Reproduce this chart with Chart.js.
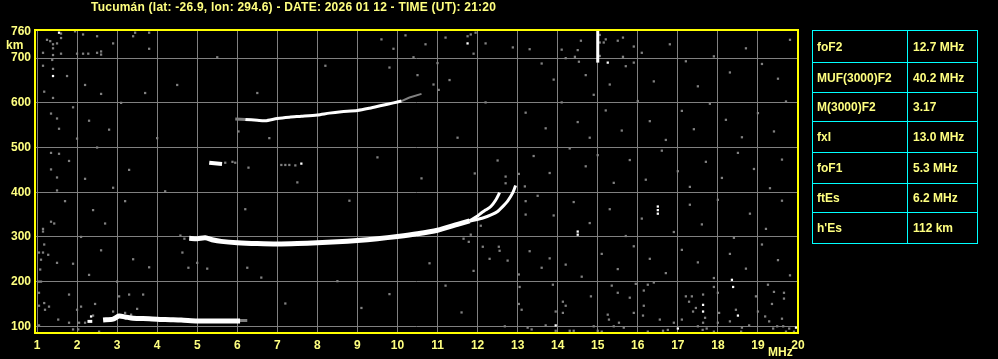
<!DOCTYPE html>
<html><head><meta charset="utf-8">
<script src="https://cdn.jsdelivr.net/npm/chart.js@4.4.1/dist/chart.umd.min.js"></script>
<style>
html,body{margin:0;padding:0;background:#000;}
body{width:998px;height:359px;position:relative;overflow:hidden;font-family:"Liberation Sans",Arial,sans-serif;font-weight:bold;color:#ffff80;}
#c{position:absolute;left:0;top:0;}
#title{position:absolute;left:91px;top:0;font-size:12px;line-height:14px;letter-spacing:0.23px;white-space:nowrap;}
.lbl{position:absolute;font-size:12px;line-height:14px;white-space:nowrap;}
.cell{position:absolute;font-size:12px;white-space:nowrap;display:flex;align-items:center;}
.hl{position:absolute;background:#00ffff;height:1px;}
.vl{position:absolute;background:#00ffff;width:1px;}
</style></head>
<body>
<canvas id="c" width="998" height="359"></canvas>
<div id="title"></div>
<div class="lbl" style="left:6px;top:38px">km</div>
<div class="lbl" style="left:768px;top:345px">MHz</div>
<div id="tbl"></div>
<script>
const title = "Tucumán (lat: -26.9, lon: 294.6) - DATE: 2026 01 12 - TIME (UT): 21:20";
const freqTicks = [1,2,3,4,5,6,7,8,9,10,11,12,13,14,15,16,17,18,19,20];
const heightTicks = [100,200,300,400,500,600,700,760];
const paramNames = ["foF2","MUF(3000)F2","M(3000)F2","fxI","foF1","ftEs","h'Es"];
const paramValues = ["12.7 MHz","40.2 MHz","3.17","13.0 MHz","5.3 MHz","6.2 MHz","112 km"];

// F-layer trace (common part), then the two branches near the critical frequency
const fTraceFreq   = [4.8,5.0,5.2,5.4,5.6,6.0,6.5,7.0,7.5,8.0,8.5,9.0,9.5,10.0,10.5,11.0,11.5,11.8];
const fTraceHeight = [297,296,298,293,290,287,285,284,285,287,289,292,296,301,307,315,328,336];
const oBranchFreq   = [11.8,12.0,12.1,12.2,12.33,12.45,12.55];
const oBranchHeight = [336,347,354,360,368,382,399];
const xBranchFreq   = [11.8,12.15,12.35,12.5,12.65,12.75,12.88,12.95];
const xBranchHeight = [335,343,350,357,370,380,399,415];
// Sporadic E trace
const esFreq   = [2.65,2.9,3.05,3.2,3.4,3.8,4.2,4.6,5.0,5.5,6.07];
const esHeight = [114,116,123,121,118,117,115,114,112,112,112];
const esSmallFreq = [2.26,2.38];
const esSmallHeight = [111,111];
const esTailFreq = [6.05,6.25];
const esTailHeight = [113,113];
// Second-hop F trace
const f2Freq   = [6.2,6.5,6.7,7.0,7.3,7.6,8.0,8.3,8.6,9.0,9.3,9.6,9.9,10.1];
const f2Height = [563,561,560,565,568,570,573,577,580,583,588,594,600,604];
const f2TailFreq   = [5.95,6.2];
const f2TailHeight = [564,563];
const f2FadeFreq   = [10.1,10.3,10.6];
const f2FadeHeight = [604,612,620];
// Small trace near 465 km
const blobFreq = [5.3,5.62];
const blobHeight = [466,463];
// Vertical interference at 15 MHz
const vlineFreq = [15.0,15.0];
const vlineHeight = [690,763];

// White isolated echoes
const whiteDots = [[1.4,660],[11.75,733],[13.95,102],[17.0,95],[17.63,148],[17.63,133],[18.38,188],[18.35,204],
 [18.5,124],[19.95,97],[15.25,690],[7.6,464],[16.5,352],[16.5,360],[16.5,368],[14.5,305],[14.5,312],[2.35,122],[1.55,757]];
// Gray noise echoes
const grayDots = [
 [1.33,738],[1.4,731],[1.4,722],[1.15,712],[1.4,707],[1.38,696],[1.15,683],[1.4,676],[1.18,625],[1.4,611],[1.35,576],
 [1.5,565],[1.55,542],[1.35,488],[1.55,486],[1.35,451],[1.5,433],[1.5,404],[1.35,334],[1.43,330],[1.15,318],[1.15,312],
 [1.18,283],[1.05,265],[1.15,265],[1.28,260],[1.5,242],[1.1,249],[1.08,227],[1.05,200],[1.1,200],[1.05,175],[1.05,146],
 [1.18,152],[1.3,144],[1.53,115],[1.05,102],[1.2,137],[1.8,171],[1.8,108],[1.9,93],[2.03,93],[2.0,137],[2.1,144],
 [2.05,108],[2.2,108],[2.45,150],[2.4,124],[2.55,88],[3.0,200],[3.05,167],[3.3,171],[3.65,171],[3.2,130],[3.5,139],
 [3.35,126],[2.9,133],[1.6,755],[1.6,745],[1.25,741],[1.5,733],[1.6,710],[1.95,760],[2.15,753],[2.5,749],[2.0,710],
 [2.15,710],[2.28,710],[2.5,712],[2.6,715],[2.6,708],[2.9,733],[3.45,757],[3.4,749],[3.8,757],[3.8,721],
 [11.95,757],[11.83,753],[11.75,749],[11.9,710],[12.2,733],[12.88,724],
 [1.75,660],[2.2,640],[2.6,620],[1.9,590],[2.3,560],[2.8,540],[3.1,600],[2.0,520],[2.5,500],[1.8,470],[2.2,430],
 [2.9,410],[3.3,450],[1.7,380],[2.4,360],[2.7,330],[3.2,380],[2.1,300],[2.6,270],[3.4,250],[1.9,240],[3.8,232],[2.3,215],
 [13.05,188],[13.03,150],[13.1,137],[12.68,100],[13.25,97],[13.35,93],[13.7,102],[13.88,193],[13.95,133],[13.95,90],
 [14.13,155],[14.2,146],[14.13,130],[14.3,90],[14.4,90],[14.83,167],[14.9,100],[15.0,90],[15.1,88],[15.25,126],[15.28,115],
 [15.35,191],[15.5,175],[15.4,100],[15.53,108],[15.65,97],[15.8,164],[15.9,130],[15.95,195],[16.15,180],[16.15,146],
 [16.13,124],[16.25,193],[16.4,198],[16.25,88],[16.55,115],[16.63,90],[16.75,92],[16.9,108],[17.1,115],[17.2,167],
 [17.35,167],[17.28,155],[17.38,133],[17.45,141],[17.5,100],[17.62,92],[17.63,171],[17.68,119],[17.63,108],[17.72,95],
 [17.9,188],[18.0,175],[18.03,130],[18.0,108],[17.9,88],[18.3,111],[18.45,137],[18.6,97],[18.58,88],[18.78,102],
 [18.95,167],[19.0,133],[19.18,122],[19.28,111],[19.25,193],[19.38,95],[19.4,177],[19.35,150],[19.48,100],[19.63,100],
 [19.65,175],[19.65,162],[19.7,88],[19.78,95],[19.9,88],[19.6,117],
 [14.58,739],[14.1,719],[14.43,703],[14.5,718],[15.05,705],[15.05,735],[15.05,752],[15.15,735],[15.2,742],[15.5,739],
 [15.63,746],[15.9,726],[15.63,703],[14.53,692],[15.9,690],
 [6.5,622],[6.03,536],[5.88,468],[6.28,455],[7.1,461],[7.2,461],[7.3,461],[7.45,460],[5.7,466],[5.95,466],[11.03,629],
 [4.58,303],[4.63,265],[4.78,231],[5.25,229],[6.25,231],[6.6,209],[12.08,325],[12.53,278],[12.55,269],[12.75,247],
 [11.9,224],[11.83,305],[13.03,216],[11.93,442],[12.7,435],[13.03,441],[13.18,413],[13.2,380],[13.2,350],[12.7,420],
 [11.78,289],[12.13,278],[11.65,296],[4.68,296],
 [13.3,720],[13.6,688],[13.9,652],[14.2,700],[14.7,662],[14.9,618],[15.3,641],[15.7,682],[16.1,712],[16.4,648],
 [16.8,731],[17.2,693],[17.5,637],[17.9,704],[18.3,668],[18.7,722],[19.1,687],[19.5,654],[19.8,741],
 [13.2,578],[13.7,543],[14.1,601],[14.5,557],[14.8,522],[15.2,583],[15.6,538],[16.0,604],[16.3,559],[16.7,517],
 [17.1,582],[17.4,541],[17.8,598],[18.2,562],[18.6,523],[19.0,577],[19.4,536],[19.7,603],
 [13.4,481],[13.8,443],[14.3,498],[14.7,458],[15.0,483],[15.4,421],[15.8,472],[16.2,428],[16.6,493],[17.0,447],
 [17.3,412],[17.7,468],[18.1,432],[18.5,488],[18.9,452],[19.3,409],[19.6,473],
 [13.5,392],[13.9,348],[14.4,378],[14.8,331],[15.3,362],[15.7,302],[16.1,341],[16.9,311],[17.3,372],[17.6,328],
 [18.0,383],[18.4,298],[18.8,352],[19.2,318],[19.6,381],
 [13.3,268],[13.6,231],[13.8,252],[14.2,238],[14.6,211],[15.1,262],[15.5,228],[15.9,279],[16.3,251],[16.7,219],
 [17.1,271],[17.5,243],[17.9,208],[18.3,262],[18.7,229],[19.1,283],[19.5,248],[19.8,214],
 [9.6,742],[9.9,721],[10.2,751],[10.4,702],[10.7,731],[11.0,689],[11.2,746],[10.5,662],[9.8,679],[11.3,651],[10.9,641],
 [4.5,640],[5.5,702],[6.8,521],[8.2,683],[7.5,422],[8.8,381],[6.2,362],[9.5,478],[10.6,431],[11.5,522],[12.2,601],
 [12.5,471],[8.5,201],[9.8,172],[10.8,241],[11.2,191],[7.2,151],[4.0,521],[3.7,622],[4.2,402],[5.0,242],[9.1,141],
 [11.6,131],[12.3,251]
];

document.getElementById('title').textContent = title;

// Parameter table
const rowY = [30,62,92,121,152,183,212,243];
const tblLeft = 812, tblMid = 907, tblRight = 977;
const tbl = document.getElementById('tbl');
function addDiv(cls, style, text){ const d=document.createElement('div'); d.className=cls; Object.assign(d.style,style); if(text!==undefined) d.textContent=text; tbl.appendChild(d); }
rowY.forEach(y=>addDiv('hl',{left:tblLeft+'px',top:y+'px',width:(tblRight-tblLeft+1)+'px'}));
[tblLeft,tblMid,tblRight].forEach(x=>addDiv('vl',{left:x+'px',top:rowY[0]+'px',height:(rowY[rowY.length-1]-rowY[0]+1)+'px'}));
paramNames.forEach((n,i)=>{
  const top=rowY[i]+1, h=rowY[i+1]-rowY[i]-1;
  addDiv('cell',{left:(tblLeft+5)+'px',top:top+'px',height:h+'px'},n);
  addDiv('cell',{left:(tblMid+6)+'px',top:top+'px',height:h+'px'},paramValues[i]);
});

const xy = (fs,hs)=>fs.map((f,i)=>({x:f,y:hs[i]}));
const pts = arr=>arr.map(p=>({x:p[0],y:p[1]}));
const line = (data,w,color,tension)=>({data,showLine:true,borderColor:color||'#ffffff',borderWidth:w,pointRadius:0,
  tension:tension===undefined?0.25:tension,borderCapStyle:'butt',borderJoinStyle:'round',order:0});

const borderPlugin = {
  id:'frame',
  afterDatasetsDraw(chart){
    const {ctx,chartArea:a}=chart;
    ctx.save(); ctx.strokeStyle='#ffff00'; ctx.lineWidth=2;
    ctx.strokeRect(a.left,a.top,a.right-a.left,a.bottom-a.top);
    ctx.restore();
  }
};

const tickFont = {family:'Liberation Sans',size:12,weight:'bold'};
new Chart(document.getElementById('c'),{
  type:'scatter',
  data:{datasets:[
    line(xy(fTraceFreq,fTraceHeight),5),
    line(xy(oBranchFreq,oBranchHeight),3),
    line(xy(xBranchFreq,xBranchHeight),3),
    line(xy(esFreq,esHeight),5),
    line(xy(esSmallFreq,esSmallHeight),3,'#ffffff',0),
    line(xy(esTailFreq,esTailHeight),3,'#808080',0),
    line(xy(f2Freq,f2Height),3),
    line(xy(f2TailFreq,f2TailHeight),3,'#808080',0),
    line(xy(f2FadeFreq,f2FadeHeight),2,'#808080',0),
    line(xy(blobFreq,blobHeight),4,'#ffffff',0),
    line(xy(vlineFreq,vlineHeight),3,'#ffffff',0),
    {data:pts(whiteDots),pointStyle:'rect',pointRadius:1.6,backgroundColor:'#ffffff',borderWidth:0,order:1},
    {data:pts(grayDots),pointStyle:'rect',pointRadius:1.6,backgroundColor:'#808080',borderWidth:0,order:2}
  ]},
  options:{
    responsive:false,animation:false,devicePixelRatio:1,
    layout:{padding:{top:30,right:200,left:0,bottom:0}},
    plugins:{legend:{display:false},tooltip:{enabled:false},title:{display:false}},
    events:[],
    scales:{
      x:{type:'linear',min:0.95,max:20,
        afterBuildTicks:s=>{s.ticks=freqTicks.map(v=>({value:v}));},
        afterFit:s=>{s.height=26;},
        grid:{color:'#808080',lineWidth:1,drawTicks:false},
        border:{display:false},
        ticks:{color:'#ffff80',font:tickFont,padding:5,autoSkip:false,maxRotation:0,minRotation:0}},
      y:{type:'linear',min:85,max:763,
        afterBuildTicks:s=>{s.ticks=heightTicks.map(v=>({value:v}));},
        afterFit:s=>{s.width=35;},
        grid:{color:c=>(c.tick&&c.tick.value===760)?'rgba(0,0,0,0)':'#808080',lineWidth:1,drawTicks:false},
        border:{display:false},
        ticks:{color:'#ffff80',font:tickFont,padding:4,autoSkip:false}}
    }
  },
  plugins:[borderPlugin]
});
</script>
</body></html>
